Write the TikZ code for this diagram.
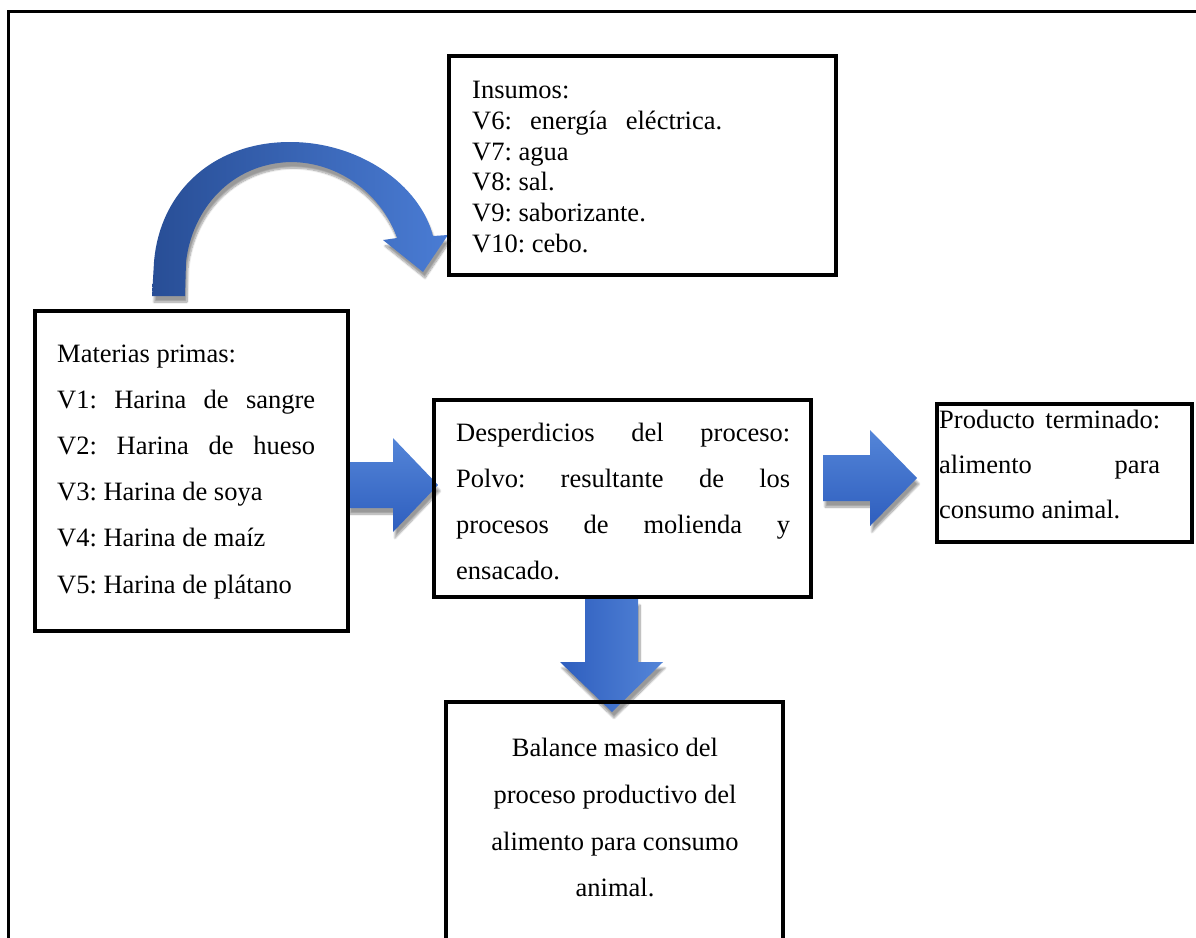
\documentclass[tikz,border=0pt]{standalone}
\usepackage{fontspec}
\setmainfont{Liberation Serif}
\usetikzlibrary{shadows.blur}
\definecolor{arrowlight}{RGB}{84,133,216}
\definecolor{arrowdark}{RGB}{46,94,190}
\definecolor{curvedark}{RGB}{40,78,150}
\definecolor{curvelight}{RGB}{74,124,212}
\newcommand\diagfont{\fontsize{26.5}{30}\selectfont\frenchspacing}
\begin{document}
\frenchspacing
\begin{tikzpicture}[x=1pt,y=-1pt,
  box/.style={draw=black, line width=4pt, inner sep=0pt, outer sep=0pt, anchor=north west},
  txt/.style={anchor=base west, inner sep=0pt, font=\diagfont},
  ctxt/.style={anchor=base, inner sep=0pt, font=\diagfont},
  shade/.style={blur shadow={shadow xshift=2pt, shadow yshift=-6pt, shadow blur steps=10, shadow opacity=40}},
  harrow/.style={top color=arrowlight, bottom color=arrowdark, draw=none, shade},
  varrow/.style={left color=arrowdark, right color=arrowlight, draw=none, shade},
  carrow/.style={left color=curvedark, right color=curvelight, draw=none, shade},
]
\useasboundingbox (0,0) rectangle (1196,937);
% outer frame
\draw[line width=3pt] (8.5,950) -- (8.5,11.3) -- (1210,11.3);

% block arrows (drawn beneath the boxes)
\path[harrow] (347.5,462) -- (393,462) -- (393,438) -- (438,485) -- (393,532) -- (393,508) -- (347.5,508) -- cycle;
\path[harrow] (823,455) -- (870,455) -- (870,430) -- (917,478) -- (870,526) -- (870,501) -- (823,501) -- cycle;
\path[varrow] (585,599) -- (638,599) -- (638,662) -- (663,662) -- (612,712) -- (560,662) -- (585,662) -- cycle;
% curved arrow
\path[carrow] (152,296) -- (154,262) .. controls (160,190) and (215,142) .. (290,142)
  .. controls (360,142) and (420,185) .. (433,236) -- (448,235) -- (423,272) -- (383,240) -- (397,238)
  .. controls (382,195) and (340,162) .. (290,162)
  .. controls (230,164) and (192,210) .. (186,262) -- (185,296) -- cycle;

% boxes
\node[box, minimum width=387pt, minimum height=219pt] (ins) at (449,55.5) {};
\node[box, minimum width=312.5pt, minimum height=320pt] (mat) at (35,310.5) {};
\node[box, minimum width=376.5pt, minimum height=197pt] (des) at (434,400) {};
\node[box, minimum width=255pt, minimum height=138.5pt] (pro) at (937,403.5) {};
\draw[line width=4pt] (446,960) -- (446,702) -- (783,702) -- (783,960);
\coordinate (bal) at (614.5,702);

% Insumos
\node[txt] (i1) at (472,98) {Insumos:};
\node[txt] (i2) at (472,129) {\makebox[250pt][s]{V6: energía eléctrica.}};
\node[txt] (i3) at (472,160) {V7: agua};
\node[txt] (i4) at (472,190) {V8: sal.};
\node[txt] (i5) at (472,221) {V9: saborizante.};
\node[txt] (i6) at (472,252) {V10: cebo.};

% Materias primas
\node[txt] (m1) at (57,362) {Materias primas:};
\node[txt] (m2) at (57,408) {\makebox[258pt][s]{V1: Harina de sangre}};
\node[txt] (m3) at (57,454) {\makebox[258pt][s]{V2: Harina de hueso}};
\node[txt] (m4) at (57,500) {V3: Harina de soya};
\node[txt] (m5) at (57,546) {V4: Harina de maíz};
\node[txt] (m6) at (57,593) {V5: Harina de plátano};

% Desperdicios
\node[txt] (d1) at (456,441) {\makebox[334pt][s]{Desperdicios del proceso:}};
\node[txt] (d2) at (456,487) {\makebox[334pt][s]{Polvo: resultante de los}};
\node[txt] (d3) at (456,533) {\makebox[334pt][s]{procesos de molienda y}};
\node[txt] (d4) at (456,579) {ensacado.};

% Producto terminado
\node[txt] (p1) at (939,428) {\makebox[221pt][s]{Producto terminado:}};
\node[txt] (p2) at (939,473) {\makebox[221pt][s]{alimento para}};
\node[txt] (p3) at (939,518) {consumo animal.};

% Balance
\node[ctxt] (b1) at (615,756) {Balance masico del};
\node[ctxt] (b2) at (615,803) {proceso productivo del};
\node[ctxt] (b3) at (615,850) {alimento para consumo};
\node[ctxt] (b4) at (615,896) {animal.};
\end{tikzpicture}
\end{document}
